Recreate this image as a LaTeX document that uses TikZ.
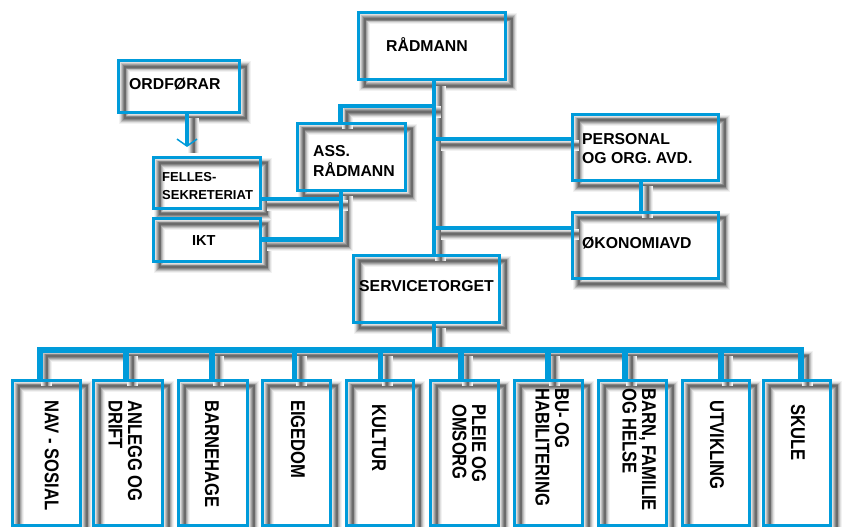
\documentclass[tikz,border=0pt]{standalone}
\usepackage{fontspec}
\setmainfont{Liberation Sans}
\usetikzlibrary{arrows.meta}
\definecolor{bl}{RGB}{0,155,218}
\pgfdeclarelayer{shadowlayer}
\pgfsetlayers{shadowlayer,main}
\newcommand{\vlines}[1]{\scalebox{1}[1.2]{\begin{tabular}[t]{@{}l@{}}#1\end{tabular}}}
\newcommand{\hlines}[1]{\begin{tabular}[t]{@{}l@{}}#1\end{tabular}}
\begin{document}
\begin{tikzpicture}[x=1pt,y=-1pt,
  box/.style={draw=bl, line width=3pt, rectangle, inner sep=0pt, outer sep=0pt, anchor=north west},
  conn/.style={draw=bl, line width=4.5pt},
  busl/.style={draw=bl, line width=5.5pt},
  sh/.style={draw=black!58, line width=2pt,
     preaction={draw=black!5, line width=11pt},
     preaction={draw=black!12, line width=9pt},
     preaction={draw=black!24, line width=7pt},
     preaction={draw=black!36, line width=5pt},
     preaction={draw=black!48, line width=3.5pt}},
  txt/.style={anchor=base west, inner sep=0pt, font=\bfseries\fontsize{15.8}{19}\selectfont},
  vtxt/.style={anchor=base west, inner sep=0pt, rotate=-90, font=\bfseries\fontsize{16.6}{15.5}\selectfont}
]
\useasboundingbox (0,0) rectangle (844,527);
% boxes
\node[box, minimum width=147pt, minimum height=67pt] (rad) at (358,13) {};
\node[box, minimum width=121pt, minimum height=51pt] (ord) at (118,61) {};
\node[box, minimum width=107pt, minimum height=51pt] (fel) at (153,157) {};
\node[box, minimum width=107pt, minimum height=43pt] (ikt) at (153,218) {};
\node[box, minimum width=108pt, minimum height=67pt] (ass) at (297,123) {};
\node[box, minimum width=146pt, minimum height=66pt] (per) at (572,114) {};
\node[box, minimum width=146pt, minimum height=66pt] (oko) at (572,212) {};
\node[box, minimum width=146pt, minimum height=67pt] (ser) at (353,255) {};
\node[box, minimum width=68pt, minimum height=145pt] (b1) at (12,380) {};
\node[box, minimum width=69pt, minimum height=145pt] (b2) at (93,380) {};
\node[box, minimum width=69pt, minimum height=145pt] (b3) at (178,380) {};
\node[box, minimum width=68pt, minimum height=145pt] (b4) at (262,380) {};
\node[box, minimum width=67pt, minimum height=145pt] (b5) at (346,380) {};
\node[box, minimum width=68pt, minimum height=145pt] (b6) at (430,380) {};
\node[box, minimum width=68pt, minimum height=145pt] (b7) at (514,380) {};
\node[box, minimum width=68pt, minimum height=145pt] (b8) at (598,380) {};
\node[box, minimum width=67pt, minimum height=145pt] (b9) at (682,380) {};
\node[box, minimum width=67pt, minimum height=145pt] (b10) at (763,380) {};
% junction coordinates
\coordinate (tk) at (434,0);
\coordinate (bj) at (434,350);
\coordinate (ja) at (434,106);
\coordinate (ax) at (340.5,106);
\coordinate (ay) at (341,0);
\coordinate (fb) at (341,199);
\coordinate (jp) at (434,139);
\coordinate (jo) at (434,228);
\coordinate (po) at (641,0);
\coordinate (ar) at (187,0);
\coordinate (at) at (187,147);
\coordinate (d1) at (40,350);
\coordinate (d2) at (126,350);
\coordinate (d3) at (212,350);
\coordinate (d4) at (294.5,350);
\coordinate (d5) at (380.5,350);
\coordinate (d6) at (461,350);
\coordinate (d7) at (548,350);
\coordinate (d8) at (625,350);
\coordinate (d9) at (721,350);
\coordinate (d10) at (801,350);
% shadows
\begin{pgfonlayer}{shadowlayer}
\begin{scope}[transform canvas={shift={(6.5pt,-6pt)}}]
  \foreach \b in {rad,ord,fel,ikt,ass,per,oko,ser,b1,b2,b3,b4,b5,b6,b7,b8,b9,b10}
    \draw[sh] (\b.north west) rectangle (\b.south east);
  \draw[sh] (rad.south -| tk) -- (ser.north -| tk);
  \draw[sh] (ser.south -| tk) -- (bj);
  \draw[sh] (ja) -| (ass.north -| ax);
  \draw[sh] (ass.south -| ay) |- (ikt.east);
  \draw[sh] (fb) -- (fb -| fel.east);
  \draw[sh] (jp) -- (jp -| per.west);
  \draw[sh] (jo) -- (jo -| oko.west);
  \draw[sh] (per.south -| po) -- (oko.north -| po);
  \draw[sh] (ord.south -| ar) -- (at);
  \draw[sh] (b1.north -| d1) -- (d1) -- (d10) -- (b10.north -| d10);
  \foreach \i in {2,...,9}
    \draw[sh] (d\i) -- (d\i |- b\i.north);
\end{scope}
\end{pgfonlayer}
% connectors
\draw[conn] (rad.south -| tk) -- (ser.north -| tk);
\draw[conn] (ser.south -| tk) -- (bj);
\draw[conn] (ja) -| (ass.north -| ax);
\draw[conn] (ass.south -| ay) |- (ikt.east);
\draw[conn] (fb) -- (fb -| fel.east);
\draw[conn] (jp) -- (jp -| per.west);
\draw[conn] (jo) -- (jo -| oko.west);
\draw[conn] (per.south -| po) -- (oko.north -| po);
\draw[draw=bl, line width=4pt, -{Straight Barb[length=7pt,width=20pt,line width=1.5pt]}] (ord.south -| ar) -- (at);
\draw[busl] (b1.north -| d1) -- (d1) -- (d10) -- (b10.north -| d10);
\foreach \i in {2,...,9}
  \draw[busl] (d\i) -- (d\i |- b\i.north);
% texts
\node[txt] (trad) at (386,52) {RÅDMANN};
\node[txt] (tord) at (129,89) {ORDFØRAR};
\node[txt] (tass) at (313,157) {\hlines{ASS.\\RÅDMANN}};
\node[txt, font=\bfseries\fontsize{13}{18}\selectfont] (tfel) at (162,181) {\hlines{FELLES-\\SEKRETERIAT}};
\node[txt, font=\bfseries\fontsize{14.5}{18}\selectfont] (tikt) at (192,245) {IKT};
\node[txt] (tper) at (582,144) {\hlines{PERSONAL\\OG ORG. AVD.}};
\node[txt] (toko) at (582,248) {ØKONOMIAVD};
\node[txt] (tser) at (359,291) {SERVICETORGET};
\node[vtxt] (v1) at (45,400) {\vlines{NAV - SOSIAL}};
\node[vtxt] (v2) at (128,400) {\vlines{ANLEGG OG\\DRIFT}};
\node[vtxt] (v3) at (205,400) {\vlines{BARNEHAGE}};
\node[vtxt] (v4) at (291,400) {\vlines{EIGEDOM}};
\node[vtxt] (v5) at (372,404) {\vlines{KULTUR}};
\node[vtxt] (v6) at (472,404) {\vlines{PLEIE OG\\OMSORG}};
\node[vtxt] (v7) at (555,388) {\vlines{BU- OG\\HABILITERING}};
\node[vtxt] (v8) at (642,388) {\vlines{BARN, FAMILIE\\OG HELSE}};
\node[vtxt] (v9) at (710,400) {\vlines{UTVIKLING}};
\node[vtxt] (v10) at (791,404) {\vlines{SKULE}};
\end{tikzpicture}
\end{document}
